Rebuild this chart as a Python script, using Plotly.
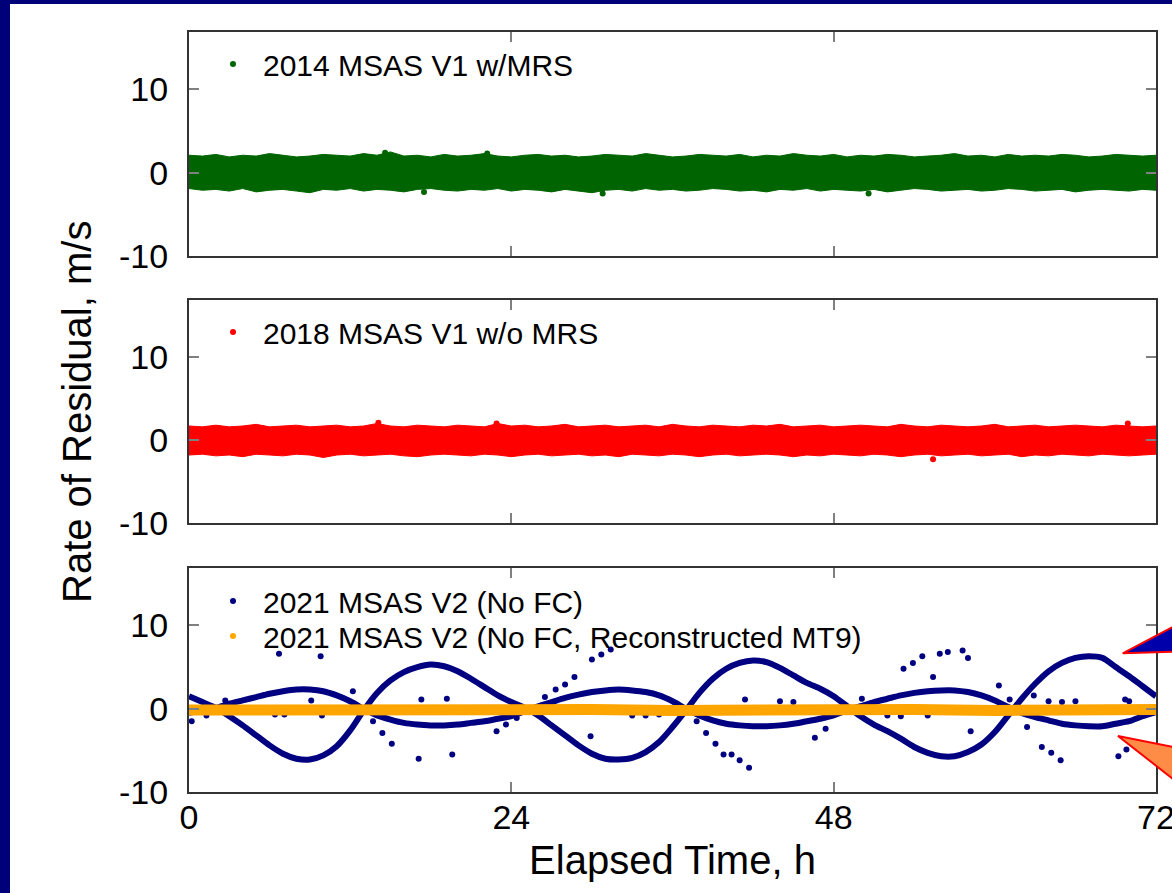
import plotly.graph_objects as go

# ---------------- data ----------------
hours = list(range(0, 73))

# 2014 MSAS V1 w/MRS : envelope of the dense scatter band (m/s)
green_upper = [2.1,2.0,2.2,1.9,2.1,2.0,2.3,2.1,1.9,2.0,
               2.2,2.1,2.0,2.3,2.1,2.5,2.0,2.1,1.9,2.2,
               2.0,2.1,2.3,2.0,1.9,2.1,2.2,2.0,2.1,1.9,
               2.0,2.2,2.1,2.0,2.3,2.1,1.9,2.0,2.2,2.1,
               2.0,2.2,1.9,2.1,2.0,2.3,2.1,2.0,2.2,1.9,
               2.1,2.0,2.2,2.1,1.9,2.0,2.1,2.3,2.0,2.1,
               1.9,2.2,2.0,2.1,2.0,2.2,2.1,1.9,2.0,2.2,
               2.1,2.0,2.1]
green_lower = [-1.9,-2.1,-2.0,-2.2,-1.9,-2.3,-2.1,-2.0,-2.2,-2.4,
               -2.0,-2.1,-1.9,-2.2,-2.0,-2.1,-2.3,-2.0,-1.9,-2.1,
               -2.2,-2.0,-2.1,-1.9,-2.2,-2.0,-2.1,-2.3,-2.0,-2.2,
               -2.4,-2.1,-2.0,-2.2,-1.9,-2.1,-2.0,-2.2,-2.1,-1.9,
               -2.0,-2.2,-2.1,-2.3,-2.0,-2.1,-1.9,-2.2,-2.0,-2.1,
               -2.2,-2.0,-2.3,-2.1,-1.9,-2.0,-2.2,-2.1,-2.0,-2.2,
               -2.1,-1.9,-2.0,-2.2,-2.1,-2.0,-2.3,-2.1,-2.0,-2.1,
               -2.2,-2.0,-2.1]
green_out_t = [14.6, 17.5, 22.2, 30.8, 50.6]
green_out_v = [2.4, -2.3, 2.3, -2.5, -2.5]

# 2018 MSAS V1 w/o MRS
red_upper = [1.7,1.6,1.8,1.6,1.7,1.9,1.6,1.7,1.8,1.6,
             1.7,1.8,1.6,1.7,2.0,1.7,1.6,1.8,1.7,1.6,
             1.8,1.7,1.6,2.0,1.7,1.8,1.6,1.7,1.9,1.6,
             1.7,1.8,1.6,1.7,1.8,1.6,1.9,1.7,1.6,1.8,
             1.7,1.6,1.8,1.7,1.9,1.6,1.7,1.8,1.6,1.7,
             1.8,1.7,1.6,1.9,1.7,1.6,1.8,1.7,1.6,1.7,
             1.9,1.6,1.7,1.8,1.6,1.7,1.8,1.7,1.6,1.8,
             1.7,1.6,1.7]
red_lower = [-1.8,-1.7,-1.9,-1.8,-2.0,-1.7,-1.8,-1.9,-1.7,-1.8,
             -2.1,-1.8,-1.7,-1.9,-1.8,-1.7,-1.9,-2.0,-1.8,-1.7,
             -1.8,-1.9,-1.7,-1.8,-2.0,-1.8,-1.7,-1.9,-1.8,-1.7,
             -1.9,-1.8,-2.0,-1.7,-1.8,-1.9,-1.7,-1.8,-2.0,-1.8,
             -1.7,-1.9,-1.8,-1.7,-1.8,-2.0,-1.8,-1.9,-1.7,-1.8,
             -1.9,-1.7,-1.8,-2.0,-1.8,-1.7,-1.9,-1.8,-1.7,-1.9,
             -1.8,-1.7,-2.0,-1.8,-1.9,-1.7,-1.8,-1.9,-1.7,-1.8,
             -1.9,-1.8,-1.7]
red_out_t = [14.1, 22.9, 55.4, 69.9]
red_out_v = [2.1, 2.0, -2.3, 2.0]

# 2021 MSAS V2 (No FC): two residual branches
blue_big = [1.5,0.8,0.1,-0.9,-2.0,-3.2,-4.4,-5.4,-6.0,-6.1,
            -5.6,-4.5,-2.6,-0.2,1.9,3.4,4.4,5.0,5.3,5.1,
            4.5,3.6,2.6,1.6,0.8,0.1,-0.8,-2.0,-3.2,-4.4,
            -5.4,-6.0,-6.1,-5.9,-5.2,-4.0,-2.2,-0.2,1.9,3.6,
            4.8,5.5,5.8,5.6,4.9,4.0,3.1,2.4,1.5,0.3,
            -0.9,-1.9,-2.7,-3.6,-4.6,-5.3,-5.7,-5.7,-5.2,-4.3,
            -2.8,-0.8,1.2,3.0,4.5,5.5,6.1,6.3,6.1,5.0,
            3.9,2.7,1.5]
blue_small = [-0.5,-0.2,0.1,0.6,1.0,1.4,1.8,2.1,2.3,2.3,
              2.1,1.6,0.9,0.0,-0.8,-1.3,-1.7,-1.9,-2.0,-2.0,
              -1.9,-1.7,-1.5,-1.2,-0.9,-0.3,0.3,0.8,1.3,1.7,
              2.0,2.2,2.3,2.2,2.0,1.6,0.9,0.0,-0.8,-1.4,
              -1.8,-2.0,-2.1,-2.1,-2.0,-1.8,-1.5,-1.2,-0.8,-0.2,
              0.3,0.8,1.2,1.6,1.9,2.1,2.2,2.2,2.0,1.6,
              1.0,0.2,-0.5,-1.0,-1.4,-1.8,-2.0,-2.1,-2.1,-1.8,
              -1.5,-0.9,-0.4]
blue_out_t = [0.2,1.3,2.7,6.4,6.7,7.1,9.1,9.8,9.9,12.2,13.7,14.4,15.1,17.1,17.3,19.2,19.6,
              22.9,23.6,24.4,26.5,27.3,28.0,28.7,29.9,30.0,30.7,31.4,33.0,34.0,35.0,
              37.8,38.5,39.2,39.8,40.4,41.0,41.4,41.7,44.0,45.0,46.6,47.4,50.1,52.0,53.0,
              53.2,53.9,54.6,55.0,55.4,55.9,56.5,57.6,58.0,58.2,60.3,61.1,62.4,62.9,
              63.5,64.0,64.2,64.9,65.0,66.0,69.2,69.7,69.8,70.0]
blue_out_v = [-1.5,-0.8,1.0,-0.7,6.6,-0.7,1.0,6.3,-0.8,2.1,-1.5,-2.9,-4.2,-6.0,1.1,1.2,-5.5,
              -2.7,-1.9,-1.1,1.4,2.3,2.9,3.8,-3.3,5.9,6.5,7.1,-0.8,-0.8,-0.7,
              -1.5,-2.9,-4.2,-5.5,-5.5,-6.2,1.1,-7.1,0.9,0.8,-3.5,-2.4,1.2,-0.8,-0.9,
              4.8,5.5,6.3,-0.8,3.8,6.6,6.8,7.0,6.1,-2.7,2.8,1.1,-2.2,1.6,
              -4.6,0.9,-5.3,-6.2,0.8,0.9,-5.7,1.1,-4.9,0.9]

# 2021 MSAS V2 (No FC, Reconstructed MT9)
orange_t = [0, 6, 12, 18, 24, 30, 36, 42, 48, 54, 60, 66, 72]
orange_v = [-0.15, -0.1, -0.2, -0.1, -0.15, -0.1, -0.2, -0.1, -0.15, -0.1, -0.2, -0.1, -0.1]

x_tick_vals = [0, 24, 48, 72]
x_tick_text = ["0", "24", "48", "72"]
y_tick_vals = [-10, 0, 10]
y_tick_text = ["-10", "0", "10"]

# ---------------- figure ----------------
FONT = "Liberation Sans, Arial, sans-serif"
GREEN, RED, NAVY, ORANGE = "#006400", "#ff0000", "#000080", "#ffa500"

W, H = 1172, 893
L, R, T, B = 189, 16, 32, 101
PW, PH = W - L - R, H - T - B


def px(xp):
    return (xp - L) / PW


def py(yp):
    return (H - B - yp) / PH


fig = go.Figure()


def band(upper, lower, color, xa, ya):
    fig.add_trace(go.Scatter(x=hours, y=lower, mode="lines", line=dict(color=color, width=1),
                             xaxis=xa, yaxis=ya, showlegend=False, hoverinfo="skip"))
    fig.add_trace(go.Scatter(x=hours, y=upper, mode="lines", line=dict(color=color, width=1),
                             fill="tonexty", fillcolor=color,
                             xaxis=xa, yaxis=ya, showlegend=False, hoverinfo="skip"))


band(green_upper, green_lower, GREEN, "x", "y")
fig.add_trace(go.Scatter(x=green_out_t, y=green_out_v, mode="markers",
                         marker=dict(color=GREEN, size=6), name="2014 MSAS V1 w/MRS",
                         xaxis="x", yaxis="y", legend="legend"))

band(red_upper, red_lower, RED, "x2", "y2")
fig.add_trace(go.Scatter(x=red_out_t, y=red_out_v, mode="markers",
                         marker=dict(color=RED, size=6), name="2018 MSAS V1 w/o MRS",
                         xaxis="x2", yaxis="y2", legend="legend2"))

for curve in (blue_big, blue_small):
    fig.add_trace(go.Scatter(x=hours, y=curve, mode="lines",
                             line=dict(color=NAVY, width=6, shape="spline", smoothing=0.8),
                             xaxis="x3", yaxis="y3", showlegend=False, hoverinfo="skip"))
fig.add_trace(go.Scatter(x=blue_out_t, y=blue_out_v, mode="markers",
                         marker=dict(color=NAVY, size=6), name="2021 MSAS V2 (No FC)",
                         xaxis="x3", yaxis="y3", legend="legend3"))
fig.add_trace(go.Scatter(x=orange_t, y=orange_v, mode="lines",
                         line=dict(color=ORANGE, width=11),
                         xaxis="x3", yaxis="y3", showlegend=False, hoverinfo="skip"))
fig.add_trace(go.Scatter(x=[None], y=[None], mode="markers",
                         marker=dict(color=ORANGE, size=6),
                         name="2021 MSAS V2 (No FC, Reconstructed MT9)",
                         xaxis="x3", yaxis="y3", legend="legend4"))

xcommon = dict(range=[0, 72], tickvals=x_tick_vals, ticktext=x_tick_text,
               ticks="inside", ticklen=10, tickwidth=2, tickcolor="#808080",
               showline=True, linewidth=2, linecolor="#333333", mirror="ticks",
               showgrid=False, zeroline=False, ticklabeloverflow="allow", automargin=False,
               tickfont=dict(family=FONT, size=34, color="black"))
ycommon = dict(range=[-10, 16.9], tickvals=y_tick_vals, ticktext=y_tick_text,
               ticks="inside", ticklen=10, tickwidth=2, tickcolor="#808080",
               showline=True, linewidth=2, linecolor="#333333", mirror="ticks",
               showgrid=False, zeroline=False, ticklabelstandoff=12, automargin=False,
               tickfont=dict(family=FONT, size=34, color="black"))

d1 = [py(256), 1.0]
d2 = [py(523), py(300)]
d3 = [0.0, py(568)]

legcommon = dict(font=dict(family=FONT, size=30, color="black"), bgcolor="rgba(0,0,0,0)",
                 borderwidth=0, itemwidth=50, xanchor="left", yanchor="middle",
                 x=px(203), itemclick=False)

fig.update_layout(
    width=W, height=H,
    margin=dict(l=L, r=R, t=T, b=B, pad=0, autoexpand=False),
    paper_bgcolor="white", plot_bgcolor="white",
    font=dict(family=FONT, color="black"),
    xaxis=dict(xcommon, anchor="y", domain=[0, 1], showticklabels=False),
    yaxis=dict(ycommon, anchor="x", domain=d1),
    xaxis2=dict(xcommon, anchor="y2", domain=[0, 1], showticklabels=False),
    yaxis2=dict(ycommon, anchor="x2", domain=d2),
    xaxis3=dict(xcommon, anchor="y3", domain=[0, 1], ticklabelstandoff=-6,
                title=dict(text="Elapsed Time, h", font=dict(family=FONT, size=40, color="black"),
                           standoff=11)),
    yaxis3=dict(ycommon, anchor="x3", domain=d3),
    legend=dict(legcommon, y=py(64)),
    legend2=dict(legcommon, y=py(332)),
    legend3=dict(legcommon, y=py(601)),
    legend4=dict(legcommon, y=py(636)),
    showlegend=True,
)

fig.add_annotation(text="Rate of Residual, m/s", textangle=-90, xref="paper", yref="paper",
                   x=px(77), y=0.5, xanchor="center", yanchor="middle", showarrow=False,
                   font=dict(family=FONT, size=40, color="black"))

# slide frame (navy border strips)
SLIDE = "#000078"
fig.add_shape(type="rect", xref="paper", yref="paper", x0=px(-20), x1=px(10), y0=py(H + 20), y1=py(-20),
              fillcolor=SLIDE, line=dict(width=0), layer="above")
fig.add_shape(type="rect", xref="paper", yref="paper", x0=px(-20), x1=px(W + 20), y0=py(4), y1=py(-20),
              fillcolor=SLIDE, line=dict(width=0), layer="above")


def tri(pts, fill):
    path = "M " + " L ".join(f"{px(a):.5f},{py(b):.5f}" for a, b in pts) + " Z"
    fig.add_shape(type="path", xref="paper", yref="paper", path=path,
                  fillcolor=fill, line=dict(color="#ff0000", width=2), layer="above")


# slide callout arrows on the right edge
tri([(1122.7, 653.3), (1200, 612.5), (1200, 650.8)], "#0000aa")
tri([(1118, 736), (1200, 752.2), (1200, 800)], "#ff8c46")

fig.write_html("out.html")
